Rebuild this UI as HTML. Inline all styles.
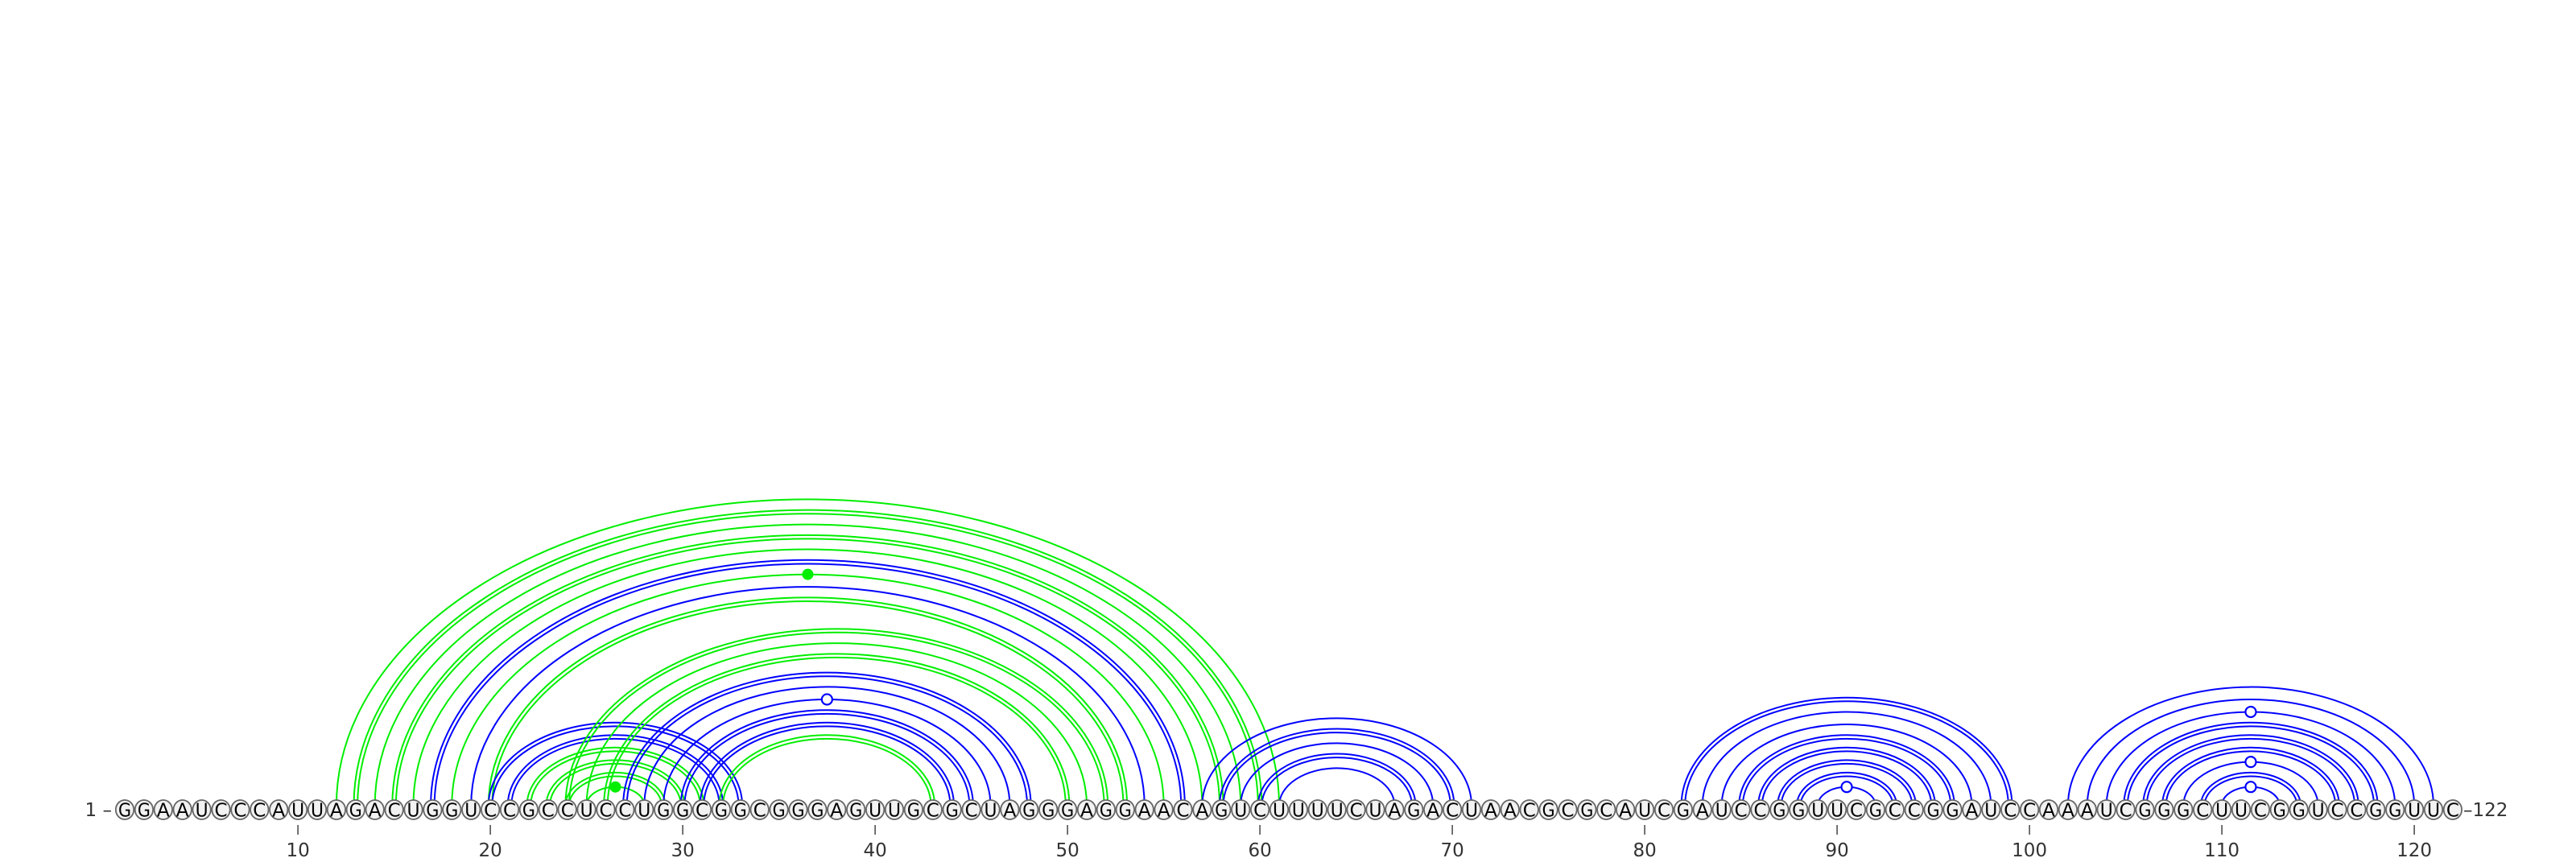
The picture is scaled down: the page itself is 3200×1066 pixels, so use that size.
<!DOCTYPE html>
<html><head><meta charset="utf-8"><style>
html,body{margin:0;padding:0;background:#fff;}
svg{display:block;}
text{font-family:"DejaVu Sans","Liberation Sans",sans-serif;}
</style></head><body>
<svg id="chart" width="3200" height="1066" viewBox="0 0 3200 1066" xmlns="http://www.w3.org/2000/svg">
<rect width="3200" height="1066" fill="#fff"/>
<g id="arcs"></g>
<g id="nts"></g>
<g id="axis"></g>
<text x="139" y="1014" text-anchor="end" font-size="23" fill="#333">1 –</text>
<text x="3060" y="1014" font-size="23" fill="#333">–122</text>
</svg>
<script>
const sequence = "GGAAUCCCAUUAGACUGGUCCGCCUCCUGGCGGCGGGAGUUGCGCUAGGGAGGAACAGUCUUUUCUAGACUAACGCGCAUCGAUCCGGUUCGCCGGAUCCAAAUCGGGCUUCGGUCCGGUUC";
const pairI   = [12,13,14,15,16,17,18,19,20, 20,21,22,23,24,25, 24,25,26, 27,28,29,30,31, 32, 57,58,59,60,61, 82,83,84,85,86,87,88,89, 102,103,104,105,106,107,108,109,110];
const pairJ   = [61,60,59,58,57,56,55,54,53, 33,32,31,30,29,28, 52,51,50, 48,47,46,45,44, 43, 71,70,69,68,67, 99,98,97,96,95,94,93,92, 121,120,119,118,117,116,115,114,113];
const pairColor=["g","g","g","g","g","b","g","b","g", "b","b","g","g","g","g", "g","g","g", "b","b","b","b","b", "g", "b","b","b","b","b", "b","b","b","b","b","b","b","b", "b","b","b","b","b","b","b","b","b"];
const pairDouble=[0,1,0,1,0,1,0,0,1, 1,1,1,1,1,0, 1,0,1, 1,0,0,1,1, 1, 0,1,0,1,0, 1,0,0,1,1,1,1,0, 0,0,0,1,1,1,0,1,0];
const pairMark = [0,0,0,0,0,0,2,0,0, 0,0,0,0,0,2, 0,0,0, 0,0,1,0,0, 0, 0,0,0,0,0, 0,0,0,0,0,0,0,1, 0,0,1,0,0,0,1,0,1];
const tickLabels = [10,20,30,40,50,60,70,80,90,100,110,120];

const NS="http://www.w3.org/2000/svg";
const X0=155, DX=23.9, YC=1001, BASE=1006, RATIO=0.65;
const xPos = i => X0 + (i-1)*DX;
const COL = {b:"#0000ff", g:"#00ee00"};
const arcs=document.getElementById('arcs'), nts=document.getElementById('nts'), axis=document.getElementById('axis');

function arcPath(cx, rx, ry){
  return `M ${cx-rx} ${YC} A ${rx} ${ry} 0 0 1 ${cx+rx} ${YC}`;
}
for(let k=0;k<pairI.length;k++){
  const a=xPos(pairI[k]), b=xPos(pairJ[k]);
  const cx=(a+b)/2, rx=(b-a)/2, ry=rx*RATIO;
  const col=COL[pairColor[k]];
  const offs = pairDouble[k] ? [-2.3,2.3] : [0];
  for(const o of offs){
    const p=document.createElementNS(NS,'path');
    p.setAttribute('d',arcPath(cx,rx+o,ry+o));
    p.setAttribute('fill','none');
    p.setAttribute('stroke',col);
    p.setAttribute('stroke-width','2');
    
    
    arcs.appendChild(p);
  }
  if(pairMark[k]){
    const c=document.createElementNS(NS,'circle');
    c.setAttribute('cx',cx);
    c.setAttribute('cy',YC-ry);
    if(pairMark[k]===1){
      c.setAttribute('r','6.5');
      c.setAttribute('fill','#fff');
      c.setAttribute('stroke',col);
      c.setAttribute('stroke-width','2.2');
    } else {
      c.setAttribute('r','7');
      c.setAttribute('fill',col);
    }
    
    
    arcs.appendChild(c);
  }
}
for(let i=1;i<=sequence.length;i++){
  const x=xPos(i);
  const c=document.createElementNS(NS,'ellipse');
  c.setAttribute('cx',x); c.setAttribute('cy',BASE); c.setAttribute('rx','11.2'); c.setAttribute('ry','12');
  c.setAttribute('fill','#f2f2f2'); c.setAttribute('stroke','#666'); c.setAttribute('stroke-width','1.8');
  
  
  nts.appendChild(c);
  const t=document.createElementNS(NS,'text');
  t.setAttribute('x',x); t.setAttribute('y',BASE+8.5);
  t.setAttribute('text-anchor','middle'); t.setAttribute('font-size','23');
  t.setAttribute('fill','#000');
  t.setAttribute('textLength','16'); t.setAttribute('lengthAdjust','spacingAndGlyphs');
  t.textContent=sequence[i-1];
  
  
  nts.appendChild(t);
}
for(const v of tickLabels){
  const x=xPos(v);
  const l=document.createElementNS(NS,'line');
  l.setAttribute('x1',x); l.setAttribute('x2',x); l.setAttribute('y1',1025); l.setAttribute('y2',1037);
  l.setAttribute('stroke','#444'); l.setAttribute('stroke-width','1.5');
  
  
  axis.appendChild(l);
  const t=document.createElementNS(NS,'text');
  t.setAttribute('x',x); t.setAttribute('y',1064);
  t.setAttribute('text-anchor','middle'); t.setAttribute('font-size','23'); t.setAttribute('fill','#333');
  t.textContent=v;
  
  
  axis.appendChild(t);
}
</script>
</body></html>
